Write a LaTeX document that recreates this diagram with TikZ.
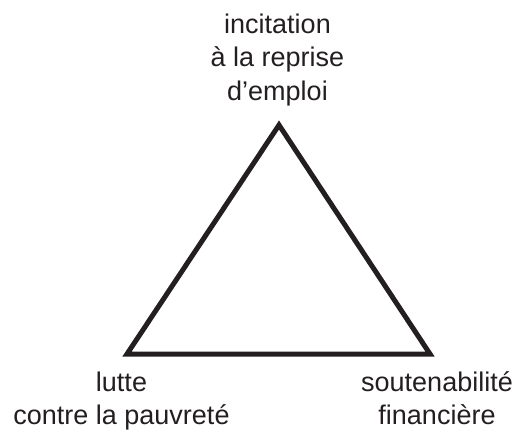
\documentclass[tikz,border=0pt]{standalone}
\usepackage{fontspec}
\setmainfont{Liberation Sans}
\usepackage{tikz}
\usetikzlibrary{positioning}
\definecolor{inkblack}{RGB}{35,31,32}
\tikzset{
  goal/.style={font=\fontsize{27}{33.5}\selectfont,text=inkblack,
    align=center,inner sep=0pt},
  side/.style={draw=inkblack,line width=5pt,miter limit=10}
}
\begin{document}
\begin{tikzpicture}[x=1pt,y=-1pt]
  \useasboundingbox (0,0) rectangle (513,429);
  % corners of the triangle
  \coordinate (top) at (279,125);
  \coordinate (left) at (127,354);
  \coordinate (right) at (430,354);
  \draw[side] (top)--(right)--(left)--cycle;
  % the three aims
  \node[goal,anchor=base] (emploi) at (277.5,100) {incitation\\à la reprise\\d’emploi};
  \node[goal,anchor=base] (pauvrete) at (121.5,424.5) {lutte\\contre la pauvreté};
  \node[goal,anchor=base] (finances) at (437,424.5) {soutenabilité\\financière};
\end{tikzpicture}
\end{document}
